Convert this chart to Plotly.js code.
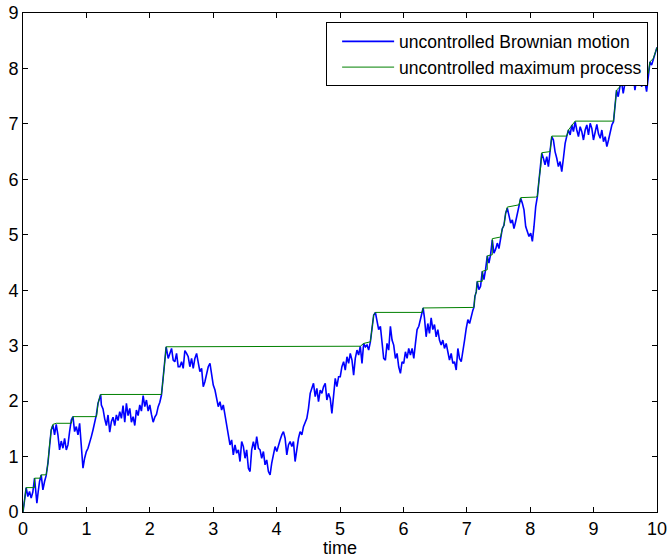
<!DOCTYPE html>
<html>
<head>
<meta charset="utf-8">
<script src="https://cdn.plot.ly/plotly-3.0.1.min.js"></script>
<style>html,body{margin:0;padding:0;background:#fff;}#chart{width:669px;height:558px;}</style>
</head>
<body>
<div id="chart"></div>
<script>
// uncontrolled Brownian motion
const bmTime = [
0,0.018,0.040,0.050,0.076,0.103,0.129,0.155,0.182,0.198,0.219,0.240,0.261,0.287,0.314,0.340,0.366,0.393,0.419,0.445,
0.472,0.498,0.524,0.551,0.577,0.603,0.630,0.656,0.683,0.709,0.735,0.762,0.788,0.814,0.841,0.867,0.893,0.920,0.946,0.972,
0.999,1.025,1.051,1.078,1.104,1.130,1.157,1.183,1.225,1.236,1.262,1.289,1.315,1.341,1.368,1.394,1.420,1.447,1.473,1.499,
1.526,1.552,1.578,1.605,1.631,1.657,1.684,1.710,1.737,1.763,1.789,1.816,1.842,1.868,1.895,1.921,1.947,1.974,2.000,2.026,
2.053,2.079,2.105,2.132,2.158,2.184,2.211,2.237,2.258,2.290,2.316,2.343,2.369,2.395,2.422,2.448,
2.474,2.501,2.527,2.553,2.580,2.606,2.632,2.659,2.685,2.711,2.738,2.764,2.790,2.817,2.843,2.869,2.896,2.922,2.949,2.975,
3.001,3.028,3.054,3.080,3.107,3.133,3.159,3.186,3.212,3.238,3.265,3.291,3.317,3.344,3.370,3.397,3.423,3.449,3.476,3.502,
3.528,3.555,3.581,3.607,3.634,3.660,3.686,3.713,3.739,3.765,3.792,3.818,3.844,3.871,3.897,3.923,3.950,3.976,4.003,4.029,
4.055,4.082,4.108,4.134,4.161,4.187,4.213,4.240,4.266,4.292,4.319,4.345,4.371,4.398,4.424,4.450,4.477,4.503,4.530,4.556,
4.582,4.609,4.635,4.661,4.688,4.714,4.740,4.767,4.793,4.819,4.846,4.872,4.898,4.925,4.951,4.978,5.004,5.030,5.057,5.083,
5.110,5.136,5.162,5.189,5.215,5.241,5.268,5.294,5.320,5.347,5.373,5.400,5.426,5.452,5.479,5.505,5.531,5.558,5.584,5.610,
5.637,5.663,5.689,5.716,5.742,5.768,5.795,5.821,5.847,5.874,5.900,5.926,5.953,5.979,6.005,6.032,6.058,6.084,6.111,6.137,
6.164,6.190,6.216,6.243,6.269,6.295,6.311,6.332,6.359,6.385,6.411,6.438,6.464,6.490,6.517,6.543,6.569,6.596,6.622,6.648,
6.675,6.701,6.727,6.754,6.780,6.806,6.833,6.859,6.885,6.912,6.938,6.965,6.991,7.017,7.044,7.070,7.096,7.112,7.128,7.149,
7.165,7.191,7.217,7.244,7.270,7.296,7.323,7.349,7.375,7.402,7.428,
7.455,7.481,7.507,7.533,7.560,7.586,7.613,7.639,7.665,7.692,7.718,7.744,7.771,7.797,7.823,7.850,7.876,7.902,7.929,7.955,
7.981,8.008,8.034,8.060,8.087,8.113,8.139,8.166,8.182,8.208,8.234,8.261,8.287,8.313,8.340,8.366,8.392,8.419,8.445,8.472,
8.498,8.524,8.551,8.577,8.603,8.630,8.656,8.682,8.709,8.735,8.761,8.788,8.814,8.840,8.867,8.893,8.919,8.946,8.972,8.998,
9.025,9.051,9.077,9.104,9.130,9.156,9.183,9.209,9.235,9.262,9.288,9.314,9.341,9.362,9.388,9.415,9.441,9.467,9.494,9.520,
9.546,9.573,9.599,9.626,9.652,9.678,9.705,9.731,9.757,9.784,9.810,9.836,9.863,9.889,9.915,9.942,9.968,9.994,10.0
];
const bmValue = [
0,0.19,0.37,0.44,0.28,0.37,0.25,0.36,0.61,0.37,0.16,0.37,0.55,0.67,0.40,0.55,0.66,0.88,1.21,1.48,
1.57,1.39,1.58,1.39,1.12,1.28,1.15,1.33,1.12,1.21,1.45,1.66,1.72,1.45,1.54,1.39,1.60,1.21,0.79,0.97,
1.09,1.15,1.28,1.36,1.48,1.60,1.75,1.96,2.12,1.93,1.86,1.68,1.56,1.75,1.44,1.63,1.71,1.56,1.75,1.65,
1.81,1.69,1.92,1.62,1.96,1.74,1.87,1.62,1.72,1.56,1.84,1.74,1.93,1.82,2.10,1.90,2.02,1.82,1.93,1.76,
1.62,1.71,1.76,1.90,1.98,2.11,2.41,2.73,2.98,2.77,2.86,2.95,2.74,2.71,2.86,2.62,
2.62,2.71,2.59,2.91,2.86,2.80,2.62,2.77,2.59,2.77,2.86,2.68,2.53,2.59,2.26,2.35,2.50,2.62,2.68,2.47,
2.29,2.20,2.05,1.90,1.99,1.84,1.93,1.75,1.63,1.39,1.21,1.30,1.03,1.21,1.06,1.12,0.91,1.27,1.18,0.97,
1.12,0.79,0.73,1.12,1.27,1.12,1.36,1.15,1.12,0.97,1.09,0.85,0.94,0.73,0.67,0.88,1.06,1.18,1.09,1.21,
1.30,1.39,1.45,1.33,1.03,1.21,1.27,1.18,1.27,0.91,1.18,1.33,1.45,1.39,1.54,1.60,1.69,1.87,2.14,2.23,
2.32,2.08,2.23,1.99,2.20,2.14,2.26,2.32,2.02,2.14,2.05,1.78,2.17,2.41,2.26,2.44,2.44,2.62,2.71,2.56,
2.80,2.68,2.86,2.74,2.47,2.77,2.92,2.83,2.99,2.68,3.04,2.98,3.01,2.92,3.07,3.35,3.55,3.60,3.40,3.29,
3.35,3.07,2.77,2.74,3.04,2.92,3.35,3.10,3.01,2.77,2.86,2.62,2.50,2.71,2.68,2.89,2.77,2.95,2.83,2.95,
2.77,3.04,3.29,3.35,3.47,3.59,3.68,3.50,3.16,3.40,3.22,3.50,3.29,3.38,3.16,3.29,3.10,3.01,3.10,2.95,
3.04,2.89,2.74,2.86,2.68,2.71,2.56,2.95,2.77,2.71,2.95,3.10,3.31,3.47,3.40,3.55,3.64,3.69,3.89,3.97,
4.16,4.01,4.07,4.34,4.19,4.37,4.62,4.49,4.64,4.91,4.67,
4.74,4.85,4.75,4.96,5.11,5.17,5.39,5.48,5.36,5.21,5.27,5.11,5.24,5.39,5.54,5.66,5.57,5.45,5.15,5.06,
4.97,5.03,4.88,5.15,5.51,5.69,5.99,6.23,6.47,6.38,6.26,6.41,6.23,6.50,6.77,6.71,6.50,6.38,6.23,6.32,
6.14,6.38,6.65,6.78,6.89,6.80,6.98,6.86,7.04,6.89,6.77,6.95,6.86,6.71,6.89,6.98,6.80,7.01,6.92,6.71,
6.89,6.99,6.82,6.74,6.89,6.68,6.77,6.59,6.71,6.86,6.98,7.04,7.31,7.61,7.49,7.67,7.76,7.55,7.73,7.85,
7.79,7.91,7.79,7.88,7.61,7.82,7.73,7.88,7.67,7.85,7.76,7.58,7.85,8.12,8.06,8.18,8.27,8.36,8.38
];

// uncontrolled maximum process (corner points)
const maxTime = [
0,0.050,0.182,0.182,0.271,0.287,0.366,0.393,0.419,0.445,0.472,0.524,0.762,0.788,1.160,1.183,1.225,2.184,2.211,2.237,
2.258,5.320,5.373,5.479,5.505,5.531,5.558,6.295,6.311,7.112,7.128,7.149,7.165,7.244,7.244,7.323,7.323,7.402,7.402,7.533,
7.560,7.586,7.613,7.639,7.823,7.850,8.087,8.113,8.139,8.166,8.182,8.313,8.340,8.577,8.603,8.656,8.709,9.314,9.341,9.362,
9.415,9.441,9.520,9.573,9.863,9.889,9.942,9.968,9.994,10.0
];
const maxValue = [
0,0.44,0.44,0.61,0.61,0.67,0.67,0.88,1.21,1.48,1.58,1.60,1.60,1.72,1.72,1.96,2.12,2.12,2.41,2.73,
2.98,2.99,3.04,3.07,3.35,3.55,3.60,3.60,3.68,3.69,3.89,3.97,4.16,4.16,4.34,4.37,4.62,4.64,4.93,4.96,
5.11,5.17,5.39,5.50,5.54,5.67,5.68,5.69,5.99,6.23,6.48,6.50,6.78,6.78,6.89,6.98,7.05,7.05,7.31,7.61,
7.67,7.76,7.85,7.91,7.91,8.12,8.18,8.27,8.36,8.38
];

const xTickVals = [0,1,2,3,4,5,6,7,8,9,10];
const yTickVals = [0,1,2,3,4,5,6,7,8,9];

const traces = [
  {x: bmTime, y: bmValue, type: 'scatter', mode: 'lines', name: 'uncontrolled Brownian motion',
   line: {color: '#0000ff', width: 1.6}},
  {x: maxTime, y: maxValue, type: 'scatter', mode: 'lines', name: 'uncontrolled maximum process',
   line: {color: '#008000', width: 1}}
];

const font = {family: '"Liberation Sans", Arial, Helvetica, sans-serif', size: 18, color: '#000'};

const layout = {
  width: 669, height: 558,
  margin: {l: 23, r: 12, t: 13, b: 46},
  paper_bgcolor: '#fff', plot_bgcolor: '#fff',
  font: font,
  showlegend: true,
  xaxis: {
    range: [0, 10], tickvals: xTickVals, ticktext: xTickVals.map(String),
    ticks: 'inside', ticklen: 5, tickcolor: '#000', showline: true, linecolor: '#000', linewidth: 1,
    mirror: 'ticks', showgrid: false, zeroline: false,
    title: {text: 'time', font: font, standoff: 2}, tickfont: font
  },
  yaxis: {
    range: [0, 9], tickvals: yTickVals, ticktext: yTickVals.map(String),
    ticks: 'inside', ticklen: 5, tickcolor: '#000', showline: true, linecolor: '#000', linewidth: 1,
    mirror: 'ticks', showgrid: false, zeroline: false, tickfont: font
  },
  legend: {
    x: 0.986, y: 0.981, xanchor: 'right', yanchor: 'top',
    bgcolor: '#fff', bordercolor: '#000', borderwidth: 1,
    font: {family: font.family, size: 17.5, color: '#000'},
    itemwidth: 52, indentation: 10, tracegroupgap: 0
  }
};

Plotly.newPlot('chart', traces, layout, {staticPlot: true, displayModeBar: false});
</script>
</body>
</html>
